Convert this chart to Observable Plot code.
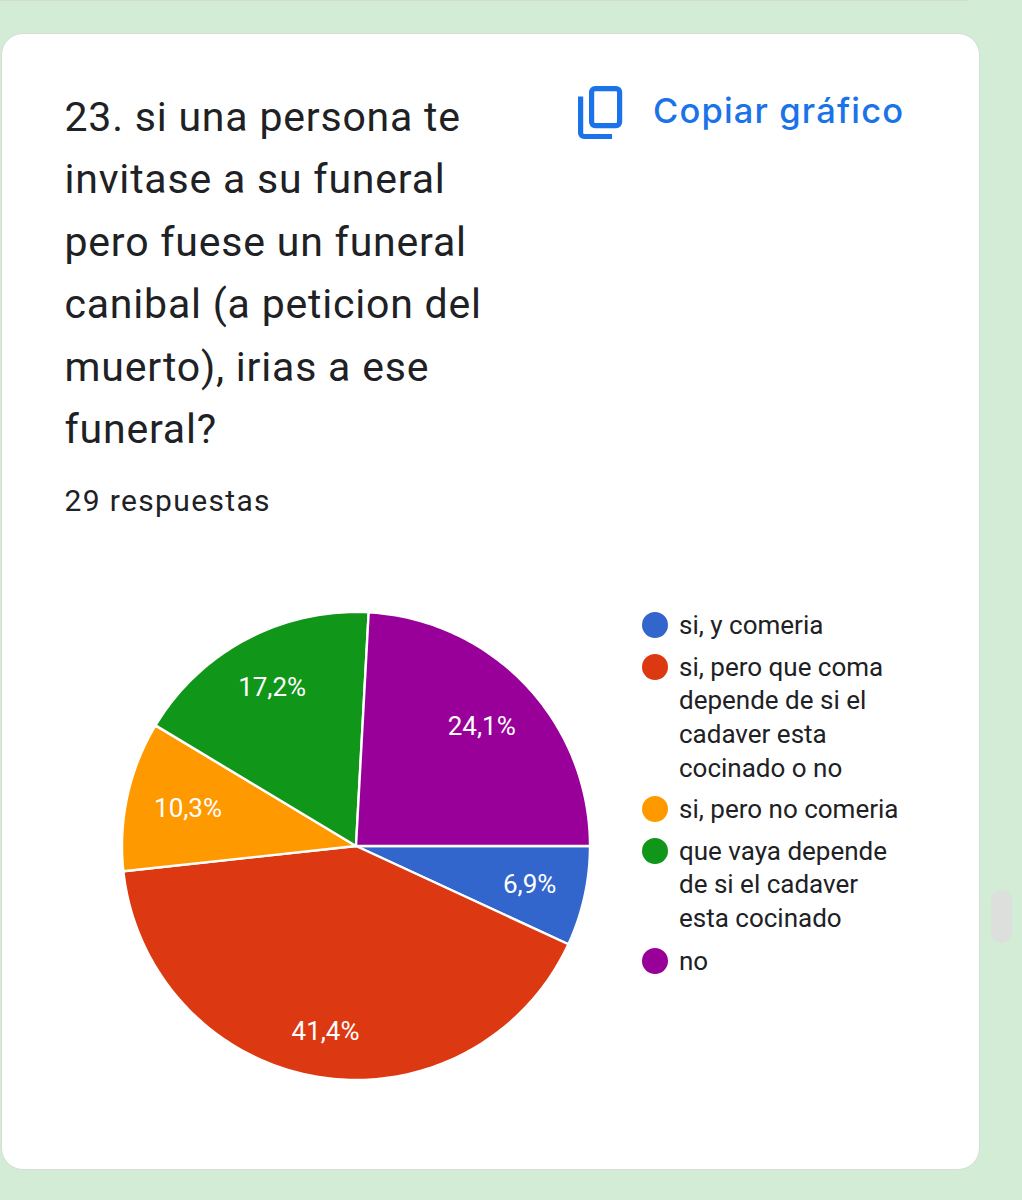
<!DOCTYPE html>
<html lang="es">
<head>
<meta charset="utf-8">
<script src="https://cdn.jsdelivr.net/npm/d3@7"></script>
<script src="https://cdn.jsdelivr.net/npm/@observablehq/plot@0.6"></script>
<style>
html,body{margin:0;padding:0;width:1022px;height:1200px;overflow:hidden;background:#d3ecd5;font-family:Roboto,sans-serif;}
#topline{position:absolute;left:0;top:0;width:968px;height:1px;background:#cfdccf;}
#card{position:absolute;left:1px;top:33px;width:977px;height:1135px;background:#fff;border:1px solid #d6dcd6;border-radius:22px;box-sizing:content-box;}
#scroll{position:absolute;left:991px;top:890px;width:21px;height:53px;background:#dddfdd;border-radius:10px;}
#title{position:absolute;left:64.5px;top:86px;margin:0;width:470px;font-weight:400;font-size:41px;line-height:62.4px;letter-spacing:.8px;color:#202124;}
#count{position:absolute;left:64.5px;top:483px;font-size:30px;line-height:36px;letter-spacing:1.35px;color:#202124;}
#copy{position:absolute;left:653px;top:88px;font-family:Inter,sans-serif;font-weight:500;font-size:34.5px;line-height:46px;letter-spacing:1.15px;color:#1a73e8;white-space:nowrap;}
#icon{position:absolute;left:572px;top:81px;}
#chart{position:absolute;left:0;top:590px;}
#legend{position:absolute;left:0;top:0;}
.key{position:absolute;left:642px;width:26px;height:26px;border-radius:50%;}
.lab{position:absolute;left:679px;width:240px;font-size:26px;line-height:33.8px;color:#202124;}
</style>
</head>
<body>
<div id="topline"></div>
<div id="card"></div>
<div id="scroll"></div>
<h1 id="title">23. si una persona te<br>invitase a su funeral<br>pero fuese un funeral<br>canibal (a peticion del<br>muerto), irias a ese<br>funeral?</h1>
<div id="count">29 respuestas</div>
<svg id="icon" width="56" height="62" viewBox="0 0 56 62" fill="none" stroke="#1a73e8" stroke-width="5.2">
  <rect x="19.6" y="7.6" width="28" height="37" rx="3.5"/>
  <path d="M8.6 15.5V52a3.5 3.5 0 0 0 3.5 3.5H40"/>
</svg>
<div id="copy">Copiar gráfico</div>
<div id="chart"></div>
<div id="legend"></div>
<script>
const categories = ["si, y comeria", "si, pero que coma depende de si el cadaver esta cocinado o no", "si, pero no comeria", "que vaya depende de si el cadaver esta cocinado", "no"];
const legendLines = [["si, y comeria"], ["si, pero que coma", "depende de si el", "cadaver esta", "cocinado o no"], ["si, pero no comeria"], ["que vaya depende", "de si el cadaver", "esta cocinado"], ["no"]];
const counts = [2, 12, 3, 5, 7];
const labels = ["6,9%", "41,4%", "10,3%", "17,2%", "24,1%"];
const colors = ["#3366cc", "#dc3912", "#ff9900", "#109618", "#990099"];
const labelRadius = [0.76, 0.805, 0.735, 0.765, 0.74];

const total = d3.sum(counts);
const wedges = [];
const labelRows = [];
let running = 0;
counts.forEach((n, i) => {
  const a0 = running / total * 2 * Math.PI;
  const a1 = (running + n) / total * 2 * Math.PI;
  running += n;
  const steps = Math.max(2, Math.ceil((a1 - a0) * 60));
  wedges.push({category: categories[i], x: 0, y: 0});
  for (let s = 0; s <= steps; s++) {
    const a = a0 + (a1 - a0) * s / steps;
    wedges.push({category: categories[i], x: Math.cos(a), y: -Math.sin(a)});
  }
  wedges.push({category: categories[i], x: 0, y: 0});
  const mid = (a0 + a1) / 2;
  labelRows.push({label: labels[i], x: labelRadius[i] * Math.cos(mid), y: -labelRadius[i] * Math.sin(mid)});
});

const R = 234, cx = 355.5, cy = 255.5;
const plot = Plot.plot({
  width: 1000,
  height: 520,
  margin: 0,
  style: {background: "transparent", fontFamily: "Roboto, sans-serif"},
  x: {axis: null, domain: [-1, 1], range: [cx - R, cx + R]},
  y: {axis: null, domain: [-1, 1], range: [cy + R, cy - R]},
  color: {type: "ordinal", domain: categories, range: colors},
  marks: [
    Plot.line(wedges, {x: "x", y: "y", z: "category", fill: "category", stroke: "#fff", strokeWidth: 2.4, strokeLinejoin: "round", curve: "linear"}),
    Plot.text(labelRows, {x: "x", y: "y", text: "label", fill: "#fff", fontSize: 26, textAnchor: "middle"})
  ]
});
document.getElementById("chart").appendChild(plot);

const keyTops = [612, 654, 796, 838, 948];
const legend = document.getElementById("legend");
legendLines.forEach((lines, i) => {
  const key = document.createElement("div");
  key.className = "key";
  key.style.top = keyTops[i] + "px";
  key.style.background = colors[i];
  legend.appendChild(key);
  const lab = document.createElement("div");
  lab.className = "lab";
  lab.style.top = (keyTops[i] - 3.4) + "px";
  lab.innerHTML = lines.join("<br>");
  legend.appendChild(lab);
});
</script>
</body>
</html>
